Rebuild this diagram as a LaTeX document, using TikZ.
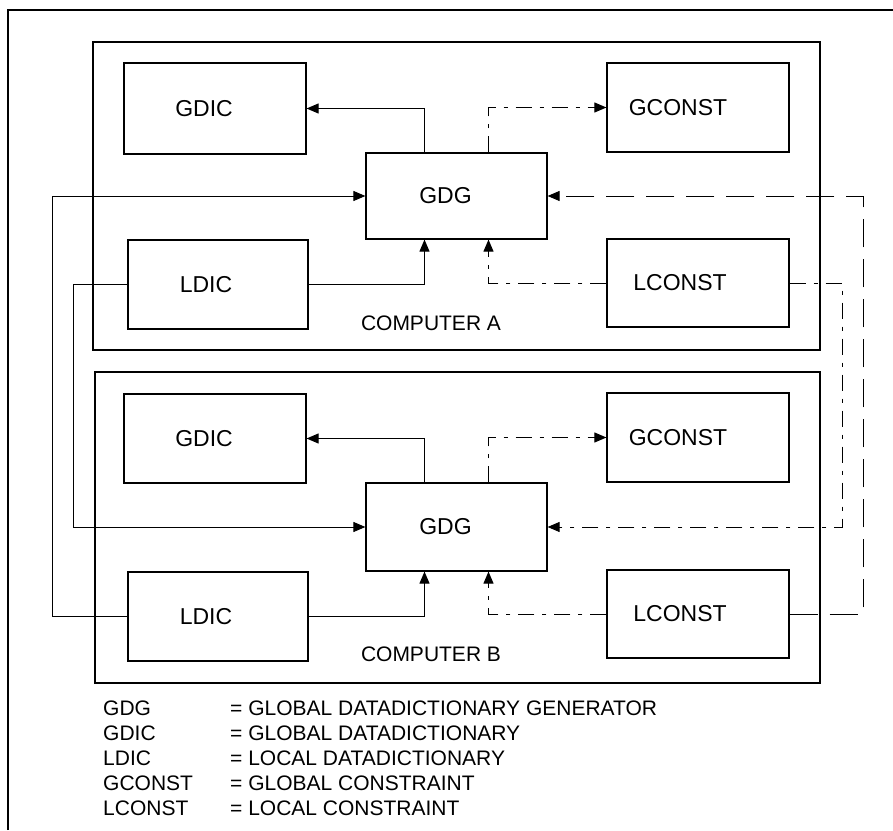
\documentclass[tikz,border=0pt]{standalone}
\usepackage{fontspec}
\setmainfont{Liberation Sans}
\usetikzlibrary{arrows.meta}
\begin{document}
\begin{tikzpicture}[x=1pt,y=-1pt,
  box/.style={draw,line width=1.2pt,inner sep=0pt,font=\fontsize{23}{26}\selectfont},
  cont/.style={draw,line width=1.5pt,inner sep=0pt},
  comp/.style={font=\fontsize{21}{24}\selectfont,inner sep=0pt},
  leg/.style={anchor=base west,inner sep=0pt,font=\fontsize{21}{23}\selectfont},
  arr/.style={line width=1pt,-{Triangle[length=12pt,width=10pt]}},
  dashdot/.style={dash pattern=on 16pt off 8pt on 4pt off 8pt},
  longdash/.style={dash pattern=on 28pt off 12pt}]
\useasboundingbox (0,0) rectangle (893,830);
% outer frame (left and top edges)
\coordinate (fa) at (8,830);
\coordinate (fb) at (8,10);
\coordinate (fc) at (893,10);
\draw[line width=1.5pt] (fa) -- (fb) -- (fc);
% containers
\node[cont,minimum width=727pt,minimum height=308pt] (compA) at (456.5,196) {};
\node[cont,minimum width=725pt,minimum height=311pt] (compB) at (457.5,527.5) {};
\node[comp] (labA) at (431,323) {COMPUTER A};
\node[comp] (labB) at (431,654) {COMPUTER B};
% computer A
\node[box,minimum width=182pt,minimum height=91pt] (gdicA) at (215,108.5) {GDIC\hspace*{22pt}};
\node[box,minimum width=181pt,minimum height=86pt] (gdgA) at (456.5,196) {GDG\hspace*{22pt}};
\node[box,minimum width=180pt,minimum height=89pt] (ldicA) at (218,284.5) {LDIC\hspace*{24pt}};
\node[box,minimum width=182pt,minimum height=89pt] (gconstA) at (698,107.5) {GCONST\hspace*{40pt}};
\node[box,minimum width=182pt,minimum height=88pt] (lconstA) at (698,283) {LCONST\hspace*{36pt}};
% computer B
\node[box,minimum width=182pt,minimum height=89pt] (gdicB) at (215,438.5) {GDIC\hspace*{22pt}};
\node[box,minimum width=181pt,minimum height=88pt] (gdgB) at (456.5,527) {GDG\hspace*{22pt}};
\node[box,minimum width=180pt,minimum height=89pt] (ldicB) at (218,616.5) {LDIC\hspace*{24pt}};
\node[box,minimum width=182pt,minimum height=89pt] (gconstB) at (698,437.5) {GCONST\hspace*{40pt}};
\node[box,minimum width=182pt,minimum height=88pt] (lconstB) at (698,614) {LCONST\hspace*{36pt}};
% local connectors A
\draw[arr] ([xshift=-32pt]gdgA.north) |- (gdicA.east);
\draw[arr,dashdot] ([xshift=32pt]gdgA.north) |- (gconstA.west);
\draw[arr] (ldicA.east) -| ([xshift=-32pt]gdgA.south);
\draw[arr,dashdot] (lconstA.west) -| ([xshift=32pt]gdgA.south);
% local connectors B
\draw[arr] ([xshift=-32pt]gdgB.north) |- (gdicB.east);
\draw[arr,dashdot] ([xshift=32pt]gdgB.north) |- (gconstB.west);
\draw[arr] (ldicB.east) -| ([xshift=-32pt]gdgB.south);
\draw[arr,dashdot] (lconstB.west) -| ([xshift=32pt]gdgB.south);
% cross connectors
\coordinate (la) at (52,0);
\coordinate (lb) at (73,0);
\coordinate (ra) at (842,0);
\coordinate (rb) at (863,0);
\draw[arr] (ldicB.west) -- (ldicB.west -| la) -- (gdgA.west -| la) -- (gdgA.west);
\draw[arr] (ldicA.west) -- (ldicA.west -| lb) -- (gdgB.west -| lb) -- (gdgB.west);
\draw[arr,dashdot] (lconstA.east) -- (lconstA.east -| ra) -- (gdgB.east -| ra) -- (gdgB.east);
\draw[arr,longdash] (lconstB.east) -- (lconstB.east -| rb) -- (gdgA.east -| rb) -- (gdgA.east);
% legend
\node[leg] (k1) at (103,715.7) {GDG};
\node[leg] (k2) at (103,740.7) {GDIC};
\node[leg] (k3) at (103,765.7) {LDIC};
\node[leg] (k4) at (103,790.7) {GCONST};
\node[leg] (k5) at (103,815.7) {LCONST};
\node[leg] (d1) at (230,715.7) {= GLOBAL DATADICTIONARY GENERATOR};
\node[leg] (d2) at (230,740.7) {= GLOBAL DATADICTIONARY};
\node[leg] (d3) at (230,765.7) {= LOCAL DATADICTIONARY};
\node[leg] (d4) at (230,790.7) {= GLOBAL CONSTRAINT};
\node[leg] (d5) at (230,815.7) {= LOCAL CONSTRAINT};
\end{tikzpicture}
\end{document}
